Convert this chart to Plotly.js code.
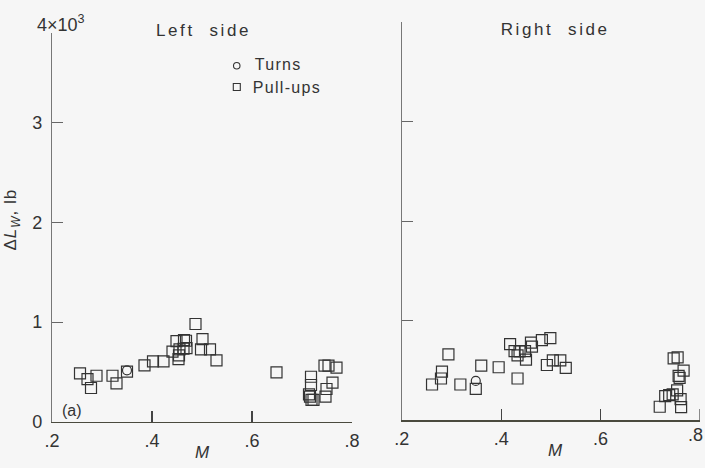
<!DOCTYPE html>
<html>
<head>
<meta charset="utf-8">
<script src="https://cdn.plot.ly/plotly-3.0.1.min.js"></script>
<style>
html,body{margin:0;padding:0;background:#f6f6f6;}
#chart{width:705px;height:468px;}
#chart g.annotation[data-index="1"] text,
#chart g.annotation[data-index="2"] text{letter-spacing:2.6px;}
#chart g.annotation[data-index="7"] text,
#chart g.annotation[data-index="8"] text{letter-spacing:1.3px;}
#chart g.annotation[data-index="3"] text{letter-spacing:1px;}
</style>
</head>
<body>
<div id="chart"></div>
<script>
// Left side data (Mach number, ΔLw in lb)
const leftPullM = [0.256,0.271,0.289,0.278,0.321,0.329,0.350,0.385,0.402,0.423,0.441,0.449,0.453,0.454,0.455,0.464,0.468,0.463,0.469,0.487,0.501,0.498,0.516,0.529,0.649,0.718,0.718,0.714,0.716,0.719,0.723,0.745,0.753,0.769,0.761,0.749,0.747];
const leftPullV = [485,428,461,338,461,385,502,565,605,605,702,809,628,666,726,819,812,732,738,980,829,726,726,616,495,451,368,275,251,218,218,562,562,542,391,328,251];
const leftTurnM = [0.350];
const leftTurnV = [515];

// Right side data
const rightPullM = [0.261,0.279,0.281,0.294,0.318,0.349,0.360,0.395,0.418,0.427,0.433,0.437,0.433,0.448,0.450,0.460,0.462,0.482,0.499,0.492,0.504,0.519,0.530,0.719,0.730,0.738,0.745,0.754,0.761,0.762,0.747,0.755,0.767,0.757,0.759];
const rightPullV = [357,417,487,660,357,313,547,530,763,693,650,690,417,693,607,777,737,803,823,553,600,600,523,133,240,250,257,297,210,130,620,630,497,443,423];
const rightTurnM = [0.349];
const rightTurnV = [393];

const xTickVals = [0.2,0.4,0.6,0.8];
const xTickText = ['.2','.4','.6','.8'];
const xTickValsRight = [0.2,0.4,0.6];
const xTickTextRight = ['.2','.4','.6'];
const yTickValsLeft = [0,1000,2000,3000];
const yTickTextLeft = ['0','1','2','3'];
const yTickValsRight = [0,1000,2000,3000,4000];

const W = 705, H = 468;
const FONT = 'Liberation Sans, Arial, sans-serif';
const INK = '#333';

const sq = {symbol:'square-open', size:11, color:INK, line:{color:INK, width:1.2}};
const ci = {symbol:'circle-open', size:9, color:INK, line:{color:INK, width:1.2}};

const traces = [
  {x:leftPullM, y:leftPullV, type:'scatter', mode:'markers', marker:sq, xaxis:'x', yaxis:'y', showlegend:false, hoverinfo:'skip'},
  {x:leftTurnM, y:leftTurnV, type:'scatter', mode:'markers', marker:ci, xaxis:'x', yaxis:'y', showlegend:false, hoverinfo:'skip'},
  {x:rightPullM, y:rightPullV, type:'scatter', mode:'markers', marker:sq, xaxis:'x2', yaxis:'y2', showlegend:false, hoverinfo:'skip'},
  {x:rightTurnM, y:rightTurnV, type:'scatter', mode:'markers', marker:ci, xaxis:'x2', yaxis:'y2', showlegend:false, hoverinfo:'skip'}
];

function xAxis(domain, anchor, vals, text){
  return {domain:domain, anchor:anchor, range:[0.2,0.8], tickvals:vals, ticktext:text,
    ticks:'inside', ticklen:11, tickcolor:'#444', tickwidth:1.2,
    showline:true, linecolor:'#4a4a3e', linewidth:1.6, showgrid:false, zeroline:false,
    tickfont:{family:FONT, size:18, color:INK}, ticklabelstandoff:2, automargin:false, fixedrange:true};
}
function yAxis(domain, anchor, range, vals, text, show){
  return {domain:domain, anchor:anchor, range:range, tickvals:vals, ticktext:text, showticklabels:show,
    ticks:'inside', ticklen:11, tickcolor:'#666', tickwidth:1,
    showline:true, linecolor:'#777', linewidth:1.1, showgrid:false, zeroline:false,
    tickfont:{family:FONT, size:18, color:INK}, ticklabelstandoff:5, automargin:false, fixedrange:true};
}

const px = v => v / W;
const py = v => 1 - v / H;

const annFont = {family:FONT, size:17, color:INK};
const layout = {
  width:W, height:H,
  margin:{l:0, r:0, t:0, b:0},
  paper_bgcolor:'#f6f6f6', plot_bgcolor:'rgba(0,0,0,0)',
  showlegend:false,
  xaxis: xAxis([52/W, 352/W], 'y', xTickVals, xTickText),
  yaxis: yAxis([(H-421.7)/H, (H-32.9)/H], 'x', [0,3900], yTickValsLeft, yTickTextLeft, true),
  xaxis2: xAxis([401.7/W, 700/W], 'y2', xTickValsRight, xTickTextRight),
  yaxis2: yAxis([(H-420)/H, (H-22)/H], 'x2', [0,4000], yTickValsRight, null, false),
  annotations: [
    {xref:'paper', yref:'paper', x:px(35), y:py(23), xanchor:'left', yanchor:'middle', showarrow:false,
      text:'4×10<sup>3</sup>', font:{family:FONT, size:18, color:INK}},
    {xref:'paper', yref:'paper', x:px(204), y:py(31), xanchor:'center', yanchor:'middle', showarrow:false,
      text:'Left  side', font:annFont},
    {xref:'paper', yref:'paper', x:px(555), y:py(29), xanchor:'center', yanchor:'middle', showarrow:false,
      text:'Right  side', font:annFont},
    {xref:'paper', yref:'paper', x:px(12), y:py(220), xanchor:'center', yanchor:'middle', showarrow:false, textangle:-90,
      text:'Δ<i>L</i><sub><i>W</i></sub>, lb', font:annFont},
    {xref:'paper', yref:'paper', x:px(202), y:py(452), xanchor:'center', yanchor:'middle', showarrow:false,
      text:'<i>M</i>', font:annFont},
    {xref:'paper', yref:'paper', x:px(555), y:py(450), xanchor:'center', yanchor:'middle', showarrow:false,
      text:'<i>M</i>', font:annFont},
    {xref:'paper', yref:'paper', x:px(60), y:py(410), xanchor:'left', yanchor:'middle', showarrow:false,
      text:'(a)', font:{family:FONT, size:16, color:INK}},
    {xref:'paper', yref:'paper', x:px(256), y:py(65), xanchor:'left', yanchor:'middle', showarrow:false,
      text:'Turns', font:{family:FONT, size:16, color:INK}},
    {xref:'paper', yref:'paper', x:px(256), y:py(87), xanchor:'left', yanchor:'middle', showarrow:false,
      text:'Pull-ups', font:{family:FONT, size:16, color:INK}},
    {xref:'paper', yref:'paper', x:px(705), y:py(435), xanchor:'right', yanchor:'middle', showarrow:false,
      text:'.8', font:{family:FONT, size:18, color:INK}}
  ],
  shapes: [
    {type:'circle', xref:'paper', yref:'paper', x0:px(233.5), x1:px(240), y0:py(62.5), y1:py(69), line:{color:INK, width:1.1}},
    {type:'rect', xref:'paper', yref:'paper', x0:px(233.3), x1:px(240.3), y0:py(83.5), y1:py(90.5), line:{color:INK, width:1.1}},
    {type:'line', xref:'x2', yref:'paper', x0:0.8, x1:0.8, y0:py(420), y1:py(409), line:{color:'#444', width:1.2}}
  ]
};

Plotly.newPlot('chart', traces, layout, {staticPlot:true, displayModeBar:false});
</script>
</body>
</html>
